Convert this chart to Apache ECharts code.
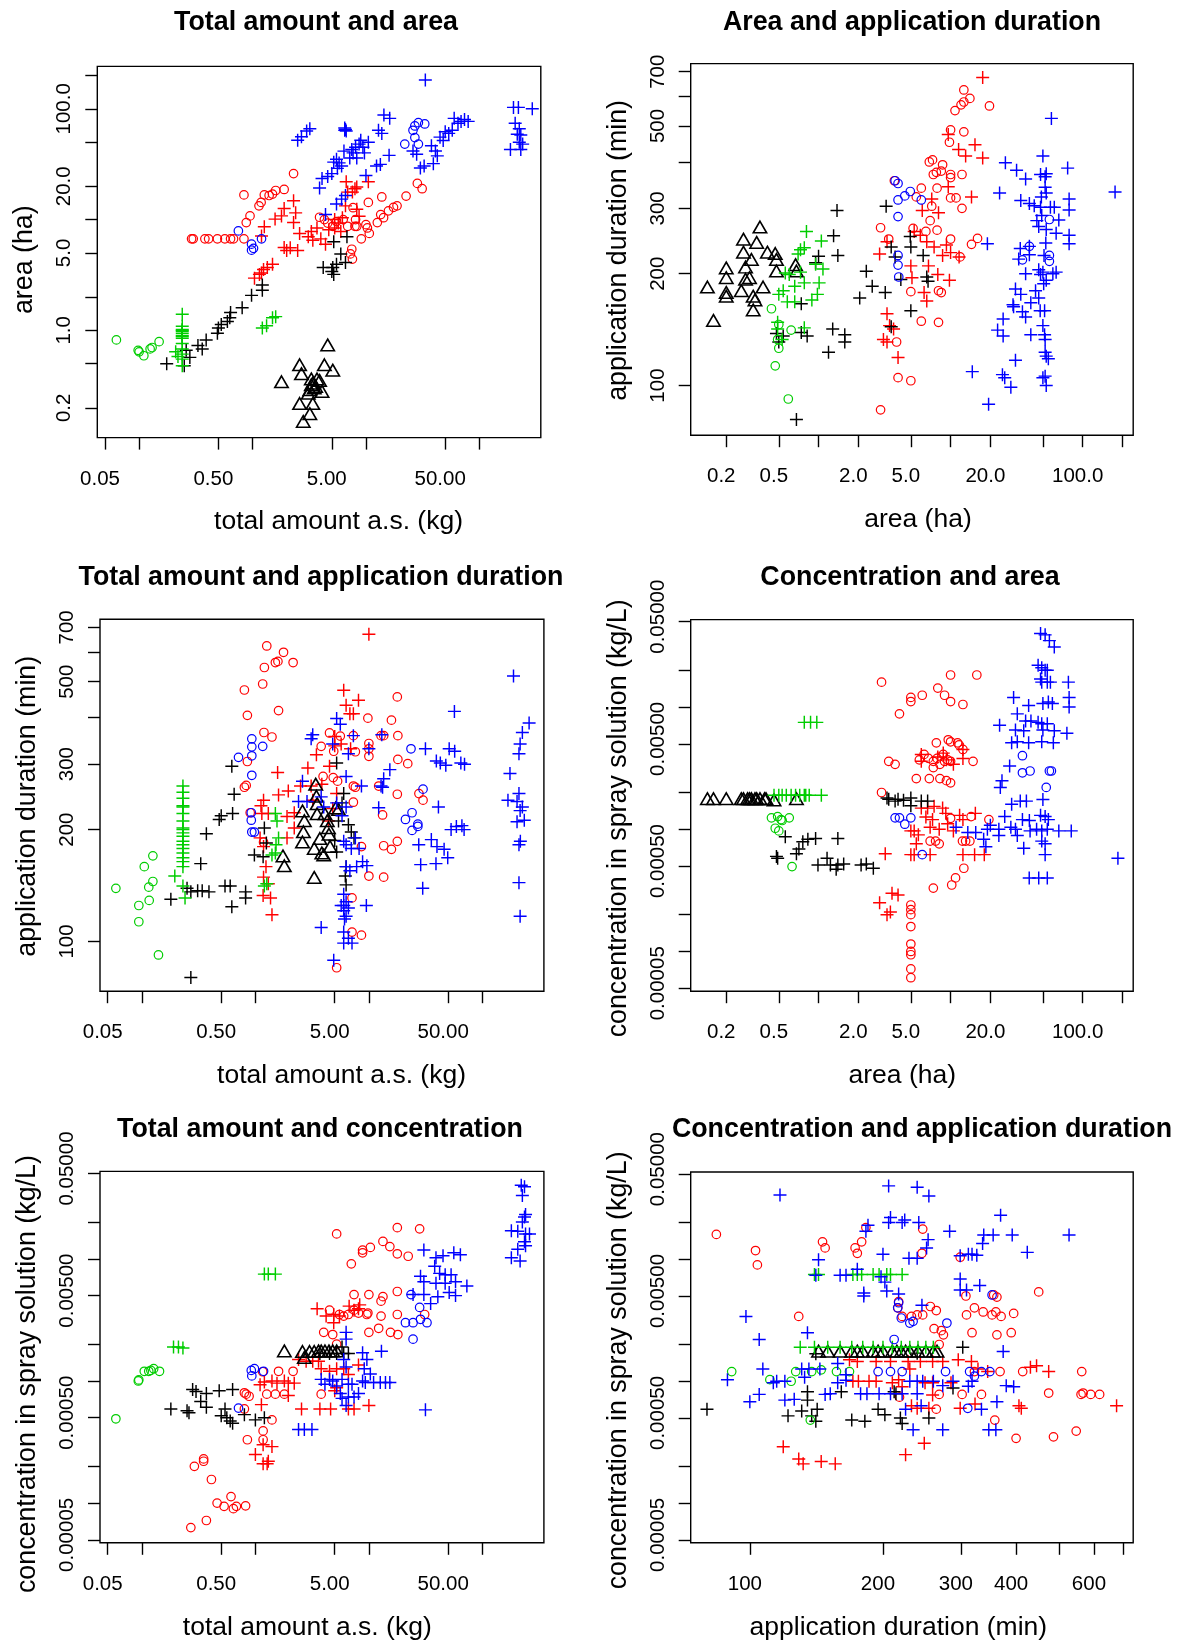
<!DOCTYPE html>
<html><head><meta charset="utf-8">
<script src="https://cdn.jsdelivr.net/npm/echarts@6/dist/echarts.min.js"></script>
<style>html,body{margin:0;padding:0;background:#fff}#c{width:1183px;height:1640px}</style>
</head><body><div id="c"></div>
<script>
// ---------- tick values / labels ----------
const amountTicks = [0.05, 0.1, 0.5, 1, 5, 10, 50, 100];
const amountLabels = [0.05, 0.5, 5, 50];
const areaTicks = [0.2, 0.5, 1, 2, 5, 10, 20, 50, 100, 200];
const areaLabelsY = [0.2, 1, 5, 20, 100];
const areaLabelsX = [0.2, 0.5, 2, 5, 20, 100];
const durTicks = [100, 200, 300, 400, 500, 600, 700];
const durLabelsY = [100, 200, 300, 500, 700];
const durLabelsX = [100, 200, 300, 400, 600];
const concTicks = [0.05, 0.02, 0.01, 0.005, 0.002, 0.001, 0.0005, 0.0002, 0.0001, 0.00005];
const concLabels = [0.05, 0.005, 0.0005, 0.00005];
const amountRange = [0.04276, 348.3];
const areaRange = [0.1076, 241.5];
const durRange = [73.5, 736];
const concRange = [0.0000473, 0.052];

// ---------- Panel 1: total amount (x) vs area (y) ----------
const aa_gr_circ = [[0.063,0.82],[0.098,0.66],[0.1,0.64],[0.11,0.59],[0.125,0.68],[0.13,0.7],[0.15,0.79]];
const aa_gr_plus = [[0.24,1.4],[0.24,1.09],[0.24,1.02],[0.24,1.0],[0.24,0.98],[0.24,0.94],[0.24,0.9],[0.24,0.88],[0.24,0.85],[0.24,0.76],[0.24,0.68],[0.24,0.61],[0.24,0.55],[0.24,0.48],[0.21,0.64],[0.22,0.58],[1.22,1.05],[1.33,1.1],[1.5,1.3],[1.6,1.33]];
const aa_bk_plus = [[0.175,0.5],[0.25,0.48],[0.26,0.66],[0.28,0.57],[0.33,0.73],[0.36,0.68],[0.39,0.82],[0.49,0.94],[0.5,1.05],[0.53,1.13],[0.6,1.2],[0.63,1.3],[0.64,1.45],[0.81,1.6],[0.98,2.07],[1.22,2.3],[1.22,2.57],[5.1,3.7],[5.2,3.2],[5.5,3.95],[6.0,4.9],[6.6,4.1],[6.8,7.0],[5.2,6.3],[4.2,3.7],[5.0,3.4]];
const aa_bk_tri = [[1.8,0.33],[2.6,0.47],[2.7,0.39],[2.6,0.21],[2.8,0.145],[3.2,0.17],[3.4,0.21],[3.3,0.35],[3.4,0.32],[3.5,0.29],[3.2,0.28],[3.7,0.35],[3.9,0.34],[4.1,0.27],[4.3,0.47],[4.6,0.71],[5.1,0.42],[3.1,0.26],[3.6,0.3],[3.3,0.31]];
const aa_rd_circ = [[0.29,6.7],[0.3,6.7],[0.38,6.7],[0.41,6.7],[0.49,6.7],[0.57,6.7],[0.64,6.7],[0.68,6.7],[0.84,6.7],[0.88,9.4],[0.95,10.8],[0.84,16.7],[1.14,13.3],[1.19,14.3],[1.27,16.7],[1.4,16.5],[1.5,17],[1.6,18.3],[1.9,18.7],[2.3,26],[3.9,10.5],[4.3,10],[4.6,9.3],[5.1,8.7],[5.5,9.6],[6.3,10],[6.9,8.7],[7.7,12.8],[8.1,10],[8,8.7],[8.3,8.7],[9.1,6.7],[7.5,5.4],[7.3,4.9],[7.6,4.4],[10,9],[10.3,8.4],[10.7,7.5],[10.5,14.3],[12.6,9.4],[13.5,11.1],[14.3,10.4],[15.8,12],[17.5,12.9],[18.8,13.3],[22.6,16.3],[13.8,16],[28.4,21.2],[31.3,19]];
const aa_rd_plus = [[1.04,2.96],[1.15,3.2],[1.25,3.55],[1.35,3.7],[1.5,3.95],[1.2,3.3],[2.0,5.25],[2.15,5.56],[2.5,5.25],[1.9,5.6],[1.2,7.1],[1.27,8.6],[1.58,10.1],[1.8,10.8],[1.9,12.6],[2.3,14.8],[2.4,11.5],[2.6,7.5],[2.3,9.4],[3.1,7],[3.4,6.5],[3.3,7.8],[3.7,8.4],[4.0,6.7],[4.4,6.0],[4.7,8.1],[5.3,8.4],[5.7,9.3],[6.2,10.4],[6.6,13.3],[6.7,22],[6.9,17.7],[8.0,19],[8.3,19.7],[7.6,17.7],[10.5,22],[8.3,12.4],[8.7,10.7],[6.0,7.8],[5.3,10]];
const aa_bl_circ = [[0.75,7.9],[0.98,6.0],[1.02,5.5],[0.98,5.3],[1.2,6.7],[22,48],[26,64],[27,70],[29,75],[33,73],[27,55],[29,48]];
const aa_bl_plus = [[2.5,52],[2.7,56],[3.0,63],[3.2,66],[3.9,19.3],[4.1,23.5],[4.6,24.5],[5.0,26],[4.4,11.1],[5.5,13.8],[6.1,15.3],[6.6,16.5],[5.5,35],[5.8,32.5],[6.1,30.4],[6.4,41.5],[6.6,65],[6.5,67],[6.7,63],[6.5,64],[7.2,36],[7.7,40],[8.1,45],[8.7,48],[9.4,45],[9.7,40],[10.5,50],[10,25],[8.3,36],[12.9,64],[13.8,60],[14.4,88],[16.2,82],[16,38],[12.4,30.4],[13.4,31.5],[26,41.6],[28,38.9],[30.2,29.2],[32.6,30.4],[39.3,32],[37.8,46.5],[41,41.6],[42.6,37.6],[45,55.5],[48,51.8],[50,62],[53.7,60],[57.7,64],[60,82],[64.8,74],[69,77],[74,80],[79.7,77],[33.4,182],[200,103],[221,103],[293,100],[188,43],[232,43],[207,74],[225,66],[232,58],[225,50],[241,48],[216,59],[5.2,33],[7.5,43],[9,52],[5.6,29]];

// ---------- Panel 2: area (x) vs application duration (y) ----------
const ad_bk_tri = [[0.144,182],[0.16,148],[0.2,205],[0.2,193],[0.2,176],[0.2,172],[0.26,178],[0.27,245],[0.27,226],[0.28,206],[0.28,191],[0.3,193],[0.31,216],[0.32,172],[0.33,168],[0.32,158],[0.34,240],[0.36,264],[0.38,182],[0.41,226],[0.47,224],[0.48,216],[0.48,201],[0.67,209],[0.68,201]];
const ad_gr_plus = [[0.81,260],[1.05,245],[0.78,235],[0.73,232],[0.7,226],[0.56,201],[0.6,199],[0.73,202],[0.78,189],[0.66,185],[0.54,180],[0.5,176],[0.58,168],[0.66,168],[0.89,170],[0.98,176],[1.01,189],[0.95,212],[1.08,206],[0.49,148],[0.49,142],[0.78,143],[0.53,133]];
const ad_gr_circ = [[0.44,161],[0.5,146],[0.49,133],[0.5,126],[0.62,141],[0.47,113],[0.59,92]];
const ad_bk_plus = [[0.48,138],[0.5,131],[0.54,136],[0.68,81],[0.74,166],[0.74,139],[0.82,136],[0.95,214],[1.0,223],[1.19,123],[1.28,142],[1.38,296],[1.3,253],[1.4,224],[1.58,137],[1.58,131],[2.05,172],[2.3,203],[2.55,185],[3.2,178],[3.25,304],[3.55,236],[3.8,222],[3.55,144],[4.95,252],[5.0,236],[5.0,159],[6.2,224],[6.6,196],[6.75,191],[4.2,193]];
const ad_rd_plus = [[2.9,226],[3.3,244],[3.3,156],[3.45,145],[3.1,133],[3.3,131],[4.0,119],[3.7,142],[5.0,210],[5.1,195],[5.3,260],[5.9,254],[6.1,296],[6.6,244],[6.8,210],[6.3,178],[6.6,169],[7.2,318],[7.5,236],[8.1,292],[8.0,199],[8.7,224],[9.3,239],[9.6,343],[9.8,192],[10,228],[11.6,222],[14.4,322],[9.6,474],[11.5,432],[13,415],[15.3,445],[17.5,410],[17.5,675]];
const ad_rd_circ = [[2.95,86],[2.95,266],[3.4,248],[3.75,356],[3.9,131],[4.0,105],[5.0,103],[5.0,179],[5.2,265],[5.5,322],[6.0,340],[6.0,149],[6.5,260],[6.9,400],[7.3,405],[7,278],[7.2,304],[7.4,370],[7.8,375],[7.9,340],[7.9,262],[8.1,180],[8.1,148],[8.5,178],[8.7,393],[8.5,378],[10,370],[10,363],[10,320],[10,248],[9.8,452],[10,488],[10.8,550],[11,320],[12,570],[12.6,580],[14,593],[12.6,625],[12.6,482],[12.2,370],[12.2,300],[11.8,222],[14.4,240],[16,249],[19.7,566]];
const ad_bl_circ = [[3.8,356],[4.0,350],[4.0,316],[4.5,324],[4.95,333],[6.0,316],[4.0,285],[4.0,224],[4.0,211],[4.05,196],[35,218],[39.5,237],[56,280],[56,224],[56,216]];
const ad_bl_plus = [[14.6,109],[19.4,89],[19,241],[23.5,330],[26,398],[31.6,380],[37,360],[34,315],[39.5,309],[43,305],[48,370],[50,415],[52,365],[53,372],[52,342],[53,330],[48.7,322],[48,302],[57,302],[61,302],[58,524],[77,385],[79,318],[79,297],[79,254],[79,241],[66,279],[63,257],[176,332],[45,278],[46.5,268],[49,287],[53,263],[52.6,242],[51,224],[33.7,234],[39.5,237],[32.8,219],[39.5,225],[37,200],[46.5,205],[48,199],[50.7,188],[53,192],[50,202],[59.5,200],[63,202],[31,182],[34,176],[44,180],[46.5,172],[40.5,167],[29.7,165],[30,163],[35,158],[37,153],[47.7,159],[51.5,159],[25,151],[22.7,141],[25,136],[40.5,137],[50,145],[51.5,137],[52,133],[52,123],[53,120],[55,118],[31,117],[24.7,107],[25.7,105],[28.6,99],[50,105],[53,100],[52,106]];

// ---------- Panel 3: total amount (x) vs application duration (y) ----------
const td_gr_circ = [[0.059,139],[0.094,125],[0.094,113],[0.105,159],[0.115,140],[0.116,129],[0.125,145],[0.125,170],[0.14,92]];
const td_gr_plus = [[0.23,262],[0.23,252],[0.23,243],[0.23,232],[0.23,230],[0.23,221],[0.23,211],[0.23,202],[0.23,200],[0.23,196],[0.23,192],[0.23,186],[0.23,182],[0.23,178],[0.23,173],[0.23,168],[0.23,164],[0.23,159],[0.195,150],[0.23,141],[0.24,131],[1.2,141],[1.26,143],[1.4,171],[1.5,221],[1.55,211],[1.5,173],[1.6,190],[1.52,182]];
const td_bk_plus = [[0.18,130],[0.25,139],[0.27,136],[0.31,137],[0.34,137],[0.39,136],[0.27,80],[0.33,162],[0.37,195],[0.48,213],[0.5,218],[0.63,221],[0.65,249],[0.62,296],[0.54,141],[0.6,141],[0.62,124],[0.82,136],[0.82,131],[0.98,171],[1.17,169],[1.2,202],[1.25,184],[5.2,302],[6.0,250],[5.8,236],[5.4,211],[5.0,187],[5.2,174],[6.3,159],[6.2,150],[6.3,142],[6.6,206],[7,197],[7.4,190]];
const td_bk_tri = [[1.75,168],[1.8,158],[2.6,222],[2.7,209],[2.65,195],[2.6,183],[3.3,147],[3.4,262],[3.45,243],[3.5,232],[3.5,218],[3.7,187],[3.3,176],[3.85,171],[4.0,169],[4.1,218],[4.3,209],[4.4,200],[4.45,192],[4.55,178],[5.1,226],[5.4,224]];
const td_rd_circ = [[1.26,624],[1.2,546],[1.5,563],[1.58,567],[1.77,600],[2.15,563],[0.8,475],[1.16,493],[0.85,406],[1.6,418],[1.19,365],[1.4,355],[0.85,305],[0.8,260],[0.83,263],[0.9,222],[1.18,185],[4.5,364],[3.8,335],[5.6,357],[4.9,325],[3.95,278],[4.85,276],[5.3,270],[7.6,324],[7.3,358],[7.3,262],[7.6,260],[7.3,237],[8.6,180],[9.8,399],[10,341],[10,330],[10,315],[12.2,262],[13.2,219],[12.8,358],[13.5,358],[15.8,394],[18,358],[18,309],[17.8,455],[17.8,249],[13.5,181],[15.8,177],[17.8,186],[10,150],[13.5,149],[7.1,131],[7.1,106],[8.6,104],[5.2,85],[22,301],[27.6,250],[30,240]];
const td_rd_plus = [[10,671],[6,474],[8.1,446],[6.3,432],[6.8,410],[7.3,410],[5.0,356],[5.7,340],[5,336],[4.5,296],[6.9,330],[3.45,318],[2.9,293],[2.5,262],[1.57,285],[1.95,254],[1.6,248],[1.18,240],[1.12,232],[1.14,221],[1.3,221],[1.9,217],[2.2,222],[3.1,262],[3.2,240],[3.85,265],[4.4,211],[5.2,250],[4.8,228],[1.1,190],[1.18,180],[1.24,159],[1.18,149],[1.3,143],[1.17,133],[1.36,131],[1.4,118],[1.9,190],[2.2,202]];
const td_bl_circ = [[0.71,313],[0.93,351],[0.93,334],[0.93,316],[1.16,335],[0.93,280],[0.92,222],[0.92,212],[0.93,197],[0.98,197],[23.5,330],[30,257],[24,222],[21,213],[24,199],[27,204],[27,207]];
const td_bl_plus = [[3.2,360],[3.1,351],[5.2,398],[5.6,384],[4.8,340],[7.3,358],[10,330],[13,360],[15.3,290],[13.5,274],[12.8,262],[8.6,262],[6.3,278],[6.6,320],[2.6,270],[2.4,238],[2.85,238],[3.8,245],[4,230],[5.2,236],[6.3,230],[5.8,218],[6,186],[6.3,182],[7.0,178],[7.6,190],[8.2,178],[8.8,164],[9.6,160],[7.8,159],[6.8,155],[6.3,159],[6.0,134],[6.3,128],[6,125],[6,121],[6.3,117],[6.1,115],[5.7,125],[6.6,123],[9.5,125],[6,106],[6.6,102],[7.1,99],[6,99],[4.9,89],[3.8,109],[12.2,229],[13.2,260],[31.5,330],[39.3,306],[42.6,302],[47.6,298],[51,330],[57,325],[64.6,302],[69.6,300],[56.7,416],[41,230],[35.5,188],[39.8,180],[46,177],[49.5,168],[53,200],[59,204],[69,200],[66,205],[27.5,182],[28.6,161],[29.8,139],[39,162],[188,518],[175,283],[168,240],[202,238],[210,250],[225,230],[210,320],[215,340],[225,365],[258,387],[215,225],[234,212],[202,210],[216,186],[210,182],[210,144],[215,117]];

// ---------- Panel 4: area (x) vs concentration (y) ----------
const ca_bk_tri = [[0.144,0.00172],[0.16,0.00172],[0.2,0.00172],[0.26,0.00172],[0.27,0.00172],[0.29,0.00172],[0.3,0.00172],[0.31,0.00172],[0.33,0.00172],[0.34,0.00172],[0.36,0.00172],[0.39,0.00172],[0.4,0.00172],[0.46,0.00168],[0.68,0.00172]];
const ca_gr_plus = [[0.46,0.0019],[0.5,0.0019],[0.53,0.0019],[0.57,0.0019],[0.62,0.0019],[0.67,0.0019],[0.72,0.0019],[0.78,0.0019],[0.8,0.0019],[0.85,0.0019],[1.05,0.0019],[0.78,0.0075],[0.87,0.0075],[0.97,0.0075]];
const ca_gr_circ = [[0.44,0.00124],[0.49,0.00127],[0.53,0.00118],[0.6,0.00124],[0.47,0.00102],[0.5,0.00097],[0.52,0.0012],[0.63,0.000495]];
const ca_bk_plus = [[0.49,0.00058],[0.48,0.0006],[0.56,0.00087],[0.68,0.00063],[0.71,0.00069],[0.76,0.00079],[0.83,0.00083],[0.95,0.00084],[0.99,0.00051],[1.16,0.00058],[1.23,0.00051],[1.36,0.00047],[1.4,0.00051],[1.55,0.00052],[1.4,0.00084],[2.1,0.00051],[2.3,0.00052],[2.6,0.00048],[3.3,0.0018],[3.4,0.00176],[3.8,0.0017],[4.0,0.00176],[4.4,0.00173],[5.0,0.0018],[5.0,0.00156],[6.0,0.0017],[6.7,0.0017]];
const ca_rd_circ = [[3.0,0.016],[4.1,0.0088],[5.0,0.012],[5.0,0.0111],[6.1,0.0125],[8.0,0.0143],[9,0.0125],[10,0.0183],[15.8,0.0183],[10,0.0111],[12.4,0.0105],[7.8,0.0051],[9.6,0.0054],[10,0.0052],[11.3,0.0051],[11.6,0.0049],[12.4,0.0045],[3.4,0.0036],[3.8,0.0034],[5.8,0.0037],[6.3,0.0041],[6.8,0.0038],[7.4,0.0036],[7.9,0.0038],[8.8,0.0041],[8.3,0.0034],[9,0.0036],[9.5,0.0037],[10,0.0036],[14.8,0.0036],[7.4,0.0032],[5.5,0.0026],[6.9,0.0026],[8.3,0.0026],[9.3,0.0025],[10,0.0024],[3.0,0.002],[10,0.00123],[14.3,0.00127],[19.5,0.0012],[12.3,0.0008],[13,0.0008],[14,0.0008],[7,0.0008],[7.7,0.0008],[8.2,0.00076],[7.4,0.00033],[10.2,0.00035],[10.9,0.0004],[12.6,0.00048],[5,0.00024],[5,0.00022],[5,0.0002],[5,0.00016],[5,0.000115],[5,0.0001],[5,0.000094],[5,0.000072],[5,0.000061]];
const ca_rd_plus = [[2.9,0.00025],[3.3,0.0002],[3.5,0.00021],[3.6,0.0003],[4.0,0.00029],[3.2,0.00063],[5.0,0.00062],[5.3,0.00062],[7,0.00062],[12.4,0.00062],[15.2,0.00062],[18,0.00062],[5,0.00097],[5.3,0.00097],[5.7,0.0009],[5.5,0.00076],[6,0.00149],[6.7,0.00149],[7.5,0.00154],[8.7,0.00149],[6.5,0.00126],[7.3,0.0012],[7,0.00104],[8.2,0.001],[9.5,0.00111],[10.5,0.00097],[11.7,0.0013],[12.4,0.0012],[15.4,0.00135],[9.2,0.00135],[6,0.0036],[8.8,0.0042],[12.4,0.0045],[10.5,0.0034],[9.3,0.0037],[8,0.0039],[12.4,0.0038],[6,0.0041]];
const ca_bl_circ = [[3.8,0.00124],[4.1,0.00124],[4.5,0.0011],[5,0.00124],[6.1,0.00062],[35,0.004],[35,0.0029],[40,0.003],[56,0.003],[58,0.003],[53,0.0022]];
const ca_bl_plus = [[48,0.04],[52,0.039],[56,0.035],[61,0.031],[46,0.022],[49,0.021],[52,0.02],[54,0.02],[48,0.017],[49,0.016],[54,0.016],[57,0.016],[78,0.016],[79,0.012],[79,0.01],[76,0.0061],[30,0.012],[39,0.0103],[50,0.0107],[55,0.011],[59,0.0107],[32,0.0088],[37,0.0077],[40.6,0.0077],[46,0.0075],[49,0.0073],[54,0.0073],[23.5,0.0071],[31,0.0065],[35.8,0.0064],[50,0.0065],[61,0.0064],[29,0.0051],[32,0.0052],[39,0.0051],[49,0.0052],[60,0.0051],[28,0.0033],[24.5,0.0025],[23.8,0.0022],[29,0.0016],[33.7,0.0017],[37.5,0.0017],[50,0.00175],[25.7,0.00127],[35,0.0012],[39.5,0.00118],[48,0.0013],[52,0.00127],[55,0.0012],[11,0.00104],[13.5,0.00094],[15.5,0.00094],[19,0.001],[20,0.00108],[23.2,0.001],[23.2,0.00089],[28.6,0.00104],[31,0.001],[32,0.00089],[40,0.00097],[44.8,0.001],[49,0.00097],[54,0.001],[66,0.00097],[82,0.00097],[49,0.0008],[52,0.00076],[35.8,0.0007],[52,0.00062],[17.8,0.00083],[18.5,0.00072],[185,0.00058],[39.4,0.0004],[46.5,0.0004],[54,0.0004]];

// ---------- Panel 5: total amount (x) vs concentration (y) ----------
const tc_gr_circ = [[0.059,0.00049],[0.093,0.001],[0.094,0.00102],[0.105,0.0012],[0.115,0.0012],[0.12,0.00122],[0.127,0.00126],[0.143,0.0012]];
const tc_gr_plus = [[0.19,0.0019],[0.21,0.0019],[0.23,0.00186],[1.2,0.0075],[1.3,0.0075],[1.5,0.0075]];
const tc_bk_plus = [[0.18,0.00059],[0.25,0.00057],[0.26,0.00055],[0.28,0.00085],[0.3,0.00082],[0.37,0.00079],[0.37,0.00061],[0.48,0.00083],[0.63,0.00085],[0.33,0.00068],[0.5,0.00052],[0.54,0.00059],[0.56,0.0005],[0.6,0.00047],[0.63,0.00045],[0.8,0.00053],[1.0,0.00048],[1.2,0.0005],[5.2,0.00168],[6,0.00168],[6.6,0.00168],[4.5,0.00168],[3.7,0.00168],[5.8,0.0019]];
const tc_bk_tri = [[1.8,0.0017],[2.6,0.00168],[2.7,0.0015],[3.0,0.00168],[3.3,0.00168],[3.6,0.0017],[3.8,0.0017],[4.1,0.0017],[4.45,0.0017],[4.8,0.0017],[5.2,0.0017]];
const tc_rd_circ = [[5.2,0.016],[17.8,0.018],[28,0.0176],[13.3,0.0139],[15.3,0.0126],[10.3,0.0124],[8.8,0.0118],[8.8,0.0112],[17.8,0.011],[22.2,0.0105],[7,0.0091],[7.4,0.0051],[10,0.0051],[13.3,0.0049],[12.8,0.0045],[17.8,0.0054],[4.5,0.0038],[5.5,0.0035],[6,0.0034],[6.6,0.0035],[7.4,0.0038],[8.1,0.0036],[9.8,0.0036],[9.6,0.0035],[12.8,0.0034],[17.8,0.0035],[31,0.0035],[4.0,0.0025],[4.8,0.0024],[10,0.0025],[12.2,0.0027],[15.5,0.0025],[18,0.0024],[5.2,0.002],[1.16,0.00119],[1.6,0.0012],[2.15,0.0012],[0.8,0.0008],[0.83,0.00078],[0.88,0.00075],[1.26,0.00078],[1.5,0.00078],[1.8,0.00078],[3.8,0.00078],[0.8,0.00059],[1.4,0.00048],[1.17,0.00039],[0.85,0.00033],[1.17,0.00033],[0.35,0.00023],[0.35,0.00022],[0.29,0.0002],[0.41,0.000156],[0.61,0.000113],[0.46,0.0001],[0.53,0.000094],[0.64,0.00009],[0.68,0.000094],[0.82,0.000095],[0.37,0.000072],[0.27,0.000063]];
const tc_rd_plus = [[3.5,0.0039],[4.2,0.0034],[4.9,0.003],[4.9,0.0035],[5.5,0.0034],[6.7,0.0041],[7.4,0.0038],[8.3,0.0042],[8.1,0.0039],[2.4,0.0015],[2.8,0.00145],[3.2,0.00145],[3.6,0.00145],[3.8,0.00126],[4.5,0.0012],[5.2,0.00126],[6,0.00126],[6.6,0.00113],[8.1,0.00135],[1.1,0.00093],[1.2,0.00098],[1.4,0.001],[1.55,0.00096],[1.8,0.001],[1.95,0.00096],[2.2,0.00096],[1.13,0.00064],[1.95,0.00076],[2.55,0.00059],[3.7,0.00059],[4.6,0.00059],[6.6,0.00059],[7.4,0.00059],[10,0.00063],[5.2,0.00088],[5,0.00083],[1.17,0.0003],[1.4,0.00029],[1.0,0.00025],[1.17,0.00021],[1.27,0.00021],[1.3,0.00022]];
const tc_bl_circ = [[0.71,0.0006],[0.92,0.00122],[0.93,0.0011],[0.98,0.00126],[1.18,0.0012],[21,0.003],[24.5,0.003],[28.5,0.0032],[32.5,0.003],[24.5,0.0022],[28,0.004],[23.5,0.0051]];
const tc_bl_plus = [[220,0.04],[235,0.039],[225,0.033],[240,0.0231],[235,0.022],[225,0.02],[180,0.017],[205,0.0168],[240,0.016],[260,0.016],[235,0.0138],[240,0.0128],[205,0.012],[180,0.0102],[215,0.0096],[30.5,0.0118],[39,0.0102],[45,0.0106],[56,0.0112],[64,0.0108],[38,0.0087],[42,0.0076],[47,0.0074],[53,0.0074],[28.5,0.0072],[30.5,0.0065],[39,0.0063],[47,0.0063],[58,0.0065],[73,0.006],[24.5,0.0051],[30.5,0.0051],[40.5,0.0049],[51,0.0053],[58,0.005],[35,0.0043],[6.3,0.0025],[6.3,0.0022],[8.8,0.0017],[9.6,0.0015],[12.9,0.00175],[9.1,0.00126],[10.3,0.00114],[8.8,0.001],[9.3,0.00097],[11,0.00097],[12.6,0.00097],[14,0.00097],[15.3,0.00097],[3.8,0.00103],[4.1,0.00094],[4.8,0.001],[5.2,0.00091],[5.8,0.00103],[6.3,0.0013],[6.6,0.00094],[7.1,0.00094],[5.6,0.00079],[5.8,0.00072],[6.6,0.00074],[7.4,0.00074],[8.1,0.00079],[6.3,0.00063],[31.5,0.00058],[2.4,0.0004],[2.7,0.0004],[3.15,0.0004],[6,0.0015],[4.5,0.00103]];

// ---------- Panel 6: application duration (x) vs concentration (y) ----------
const cd_gr_plus = [[130,0.0019],[140,0.0019],[150,0.0019],[160,0.0019],[170,0.0019],[180,0.0019],[190,0.0019],[200,0.0019],[210,0.0019],[220,0.0019],[230,0.0019],[240,0.0019],[250,0.0019],[260,0.0019],[140,0.0075],[143,0.0075],[171,0.0075],[175,0.0075],[179,0.0075],[190,0.0075],[196,0.0075],[204,0.0075],[208,0.0075],[221,0.0075]];
const cd_gr_circ = [[91,0.0012],[111,0.00103],[124,0.001],[127,0.0012],[138,0.0012],[145,0.00124],[157,0.0012],[168,0.0012],[137,0.00048]];
const cd_bk_tri = [[143,0.0017],[150,0.0017],[160,0.0017],[170,0.0017],[175,0.0017],[180,0.0017],[190,0.0017],[195,0.0017],[200,0.0017],[210,0.0017],[215,0.0017],[220,0.0017],[225,0.0017],[230,0.0017],[240,0.0017],[250,0.0017],[260,0.0017],[265,0.0017]];
const cd_bk_plus = [[80,0.00059],[122,0.00052],[131,0.00057],[135,0.00082],[138,0.00052],[141,0.00047],[142,0.00059],[135,0.0007],[141,0.00168],[161,0.00082],[170,0.00048],[182,0.00047],[195,0.00059],[202,0.00053],[212,0.00082],[214,0.00079],[219,0.0005],[221,0.00045],[254,0.0005],[288,0.00088],[303,0.0019],[239,0.0017]];
const cd_rd_circ = [[84,0.016],[103,0.0118],[104,0.009],[146,0.0139],[148,0.0124],[129,0.0034],[173,0.0124],[175,0.0112],[179,0.0139],[183,0.0182],[246,0.0177],[245,0.0112],[299,0.0104],[308,0.005],[309,0.0035],[322,0.004],[337,0.0037],[353,0.0035],[356,0.0051],[362,0.0049],[360,0.0037],[370,0.0034],[395,0.0036],[390,0.0025],[318,0.0025],[362,0.0024],[450,0.0054],[368,0.0012],[414,0.0012],[563,0.0012],[474,0.0008],[561,0.00078],[567,0.0008],[590,0.00078],[618,0.00078],[358,0.00048],[400,0.00034],[486,0.00035],[547,0.00039],[302,0.00078],[334,0.00078],[264,0.00059],[268,0.00078],[218,0.00074],[217,0.0045],[216,0.004],[221,0.0034],[232,0.0034],[239,0.0035],[246,0.0035],[256,0.0041],[264,0.0038],[261,0.0027],[271,0.0026],[274,0.0024],[268,0.002],[322,0.0012]];
const cd_rd_plus = [[119,0.00029],[129,0.00023],[132,0.00021],[145,0.00022],[156,0.00021],[225,0.00025],[248,0.00031],[168,0.0015],[175,0.00145],[193,0.00145],[208,0.00145],[228,0.00145],[243,0.00145],[259,0.00145],[273,0.00145],[296,0.0015],[317,0.00145],[171,0.001],[176,0.001],[186,0.001],[193,0.001],[210,0.00097],[217,0.00103],[221,0.0009],[230,0.00126],[249,0.00097],[259,0.00097],[285,0.00097],[299,0.0006],[323,0.00065],[328,0.00126],[345,0.0012],[406,0.00063],[411,0.0006],[431,0.0013],[445,0.00134],[474,0.0012],[675,0.00063],[232,0.00063],[239,0.0006],[254,0.0006],[259,0.00077]];
const cd_bl_circ = [[217,0.0044],[216,0.004],[220,0.0033],[230,0.003],[234,0.0031],[212,0.0022],[279,0.003],[195,0.0012],[208,0.0012],[221,0.0012],[277,0.0012],[314,0.0012],[322,0.0011],[334,0.0012],[349,0.0012],[311,0.0006],[353,0.0051]];
const cd_bl_plus = [[117,0.0337],[206,0.04],[239,0.039],[254,0.033],[208,0.022],[206,0.02],[221,0.02],[224,0.021],[241,0.02],[185,0.019],[183,0.017],[283,0.017],[369,0.023],[338,0.0158],[355,0.0158],[392,0.0158],[527,0.0158],[253,0.0145],[336,0.0135],[251,0.0124],[200,0.011],[229,0.0102],[239,0.0102],[299,0.0107],[312,0.011],[318,0.011],[326,0.0108],[424,0.0114],[143,0.0099],[141,0.0074],[160,0.0074],[165,0.0074],[175,0.0083],[198,0.0072],[202,0.0065],[299,0.0069],[331,0.0061],[309,0.0056],[299,0.0056],[204,0.0055],[217,0.0052],[181,0.0053],[181,0.005],[245,0.0042],[98,0.0034],[105,0.0022],[135,0.0025],[107,0.00126],[89,0.00103],[120,0.001],[115,0.001],[113,0.00097],[133,0.00108],[136,0.00126],[144,0.00126],[100,0.00068],[105,0.00078],[120,0.0007],[126,0.00071],[148,0.00078],[152,0.00079],[158,0.00097],[165,0.00102],[178,0.00079],[184,0.00079],[196,0.00079],[208,0.00079],[221,0.00079],[230,0.001],[239,0.001],[246,0.001],[260,0.001],[273,0.00092],[239,0.00079],[244,0.00063],[234,0.0004],[273,0.0004],[334,0.00059],[347,0.0004],[360,0.0004],[362,0.00068],[380,0.00092],[395,0.0009],[312,0.00091],[318,0.001],[288,0.001],[374,0.00175],[225,0.00059],[158,0.0014],[165,0.00113],[131,0.00126]];

// ---------- chart construction ----------
const FONT = '"Liberation Sans", Arial, Helvetica, sans-serif';
const L = Math.log10;
const PLUS = 'path://M0,5L10,5M5,0L5,10';
const TRI = 'path://M5,0L10,8.66L0,8.66Z';
const STYLE = {
  rdCirc: {symbol: 'circle', size: 8.5, color: '#FF0000', w: 1.2},
  rdPlus: {symbol: PLUS, size: 13, color: '#FF0000', w: 1.45},
  bkTri:  {symbol: TRI, size: [13.4, 11.6], color: '#000000', w: 1.6, off: [0, -1.9]},
  bkPlus: {symbol: PLUS, size: 13, color: '#000000', w: 1.45},
  grCirc: {symbol: 'circle', size: 8.5, color: '#00CD00', w: 1.2},
  grPlus: {symbol: PLUS, size: 13, color: '#00CD00', w: 1.45},
  blCirc: {symbol: 'circle', size: 8.5, color: '#0000FF', w: 1.2},
  blPlus: {symbol: PLUS, size: 13, color: '#0000FF', w: 1.45}
};
const AXES = {
  amount: {range: amountRange, ticks: amountTicks, labels: amountLabels, dec: 2, name: 'total amount a.s. (kg)'},
  areaY:  {range: areaRange, ticks: areaTicks, labels: areaLabelsY, dec: 1, name: 'area (ha)'},
  areaX:  {range: areaRange, ticks: areaTicks, labels: areaLabelsX, dec: 1, name: 'area (ha)'},
  durY:   {range: durRange, ticks: durTicks, labels: durLabelsY, dec: 0, name: 'application duration (min)'},
  durX:   {range: durRange, ticks: durTicks, labels: durLabelsX, dec: 0, name: 'application duration (min)'},
  conc:   {range: concRange, ticks: concTicks, labels: concLabels, dec: 5, name: 'concentration in spray solution (kg/L)', shiftUp: true}
};
const PANELS = [
  {title: 'Total amount and area', tx: 316, ty: 23, grid: [97.3, 66.4, 443.5, 371.2], x: 'amount', y: 'areaY', xs: 19.5, ys: 7.7,
   s: {rdCirc: aa_rd_circ, rdPlus: aa_rd_plus, bkPlus: aa_bk_plus, bkTri: aa_bk_tri, grCirc: aa_gr_circ, grPlus: aa_gr_plus, blCirc: aa_bl_circ, blPlus: aa_bl_plus}},
  {title: 'Area and application duration', tx: 912, ty: 23, grid: [690.7, 63.6, 442.5, 371.6], x: 'areaX', y: 'durY', xs: 6, ys: 1,
   s: {rdCirc: ad_rd_circ, rdPlus: ad_rd_plus, bkPlus: ad_bk_plus, bkTri: ad_bk_tri, grCirc: ad_gr_circ, grPlus: ad_gr_plus, blCirc: ad_bl_circ, blPlus: ad_bl_plus}},
  {title: 'Total amount and application duration', tx: 321, ty: 578, grid: [100, 619.3, 443.9, 371.9], x: 'amount', y: 'durY', xs: 19.6, ys: 1,
   s: {rdCirc: td_rd_circ, rdPlus: td_rd_plus, bkPlus: td_bk_plus, bkTri: td_bk_tri, grCirc: td_gr_circ, grPlus: td_gr_plus, blCirc: td_bl_circ, blPlus: td_bl_plus}},
  {title: 'Concentration and area', tx: 910, ty: 578, grid: [690.7, 619.6, 442.5, 371.6], x: 'areaX', y: 'conc', xs: -9.7, ys: 13,
   s: {rdCirc: ca_rd_circ, rdPlus: ca_rd_plus, bkPlus: ca_bk_plus, bkTri: ca_bk_tri, grCirc: ca_gr_circ, grPlus: ca_gr_plus, blCirc: ca_bl_circ, blPlus: ca_bl_plus}},
  {title: 'Total amount and concentration', tx: 320, ty: 1130, grid: [100, 1171.4, 443.9, 371.4], x: 'amount', y: 'conc', xs: -14.7, ys: 17,
   s: {rdCirc: tc_rd_circ, rdPlus: tc_rd_plus, bkPlus: tc_bk_plus, bkTri: tc_bk_tri, grCirc: tc_gr_circ, grPlus: tc_gr_plus, blCirc: tc_bl_circ, blPlus: tc_bl_plus}},
  {title: 'Concentration and application duration', tx: 922, ty: 1130, grid: [690.7, 1172, 442.5, 370.8], x: 'durX', y: 'conc', xs: -13.6, ys: 13,
   s: {rdCirc: cd_rd_circ, rdPlus: cd_rd_plus, bkPlus: cd_bk_plus, bkTri: cd_bk_tri, grCirc: cd_gr_circ, grPlus: cd_gr_plus, blCirc: cd_bl_circ, blPlus: cd_bl_plus}}
];

function makeAxis(key, idx, isX, shift) {
  const a = AXES[key];
  const pad = shift >= 0 ? (isX ? [0, 0, 0, 2 * shift] : [0, 2 * shift, 0, 0])
                         : (isX ? [0, -2 * shift, 0, 0] : [0, 0, 0, -2 * shift]);
  return {
    type: 'value', gridIndex: idx,
    min: L(a.range[0]), max: L(a.range[1]),
    axisLine: {show: false, onZero: false},
    splitLine: {show: false},
    axisTick: {show: true, inside: false, length: 12, customValues: a.ticks.map(L),
               lineStyle: {color: '#000', width: 1.4}},
    axisLabel: {show: true, customValues: a.labels.map(L), rotate: isX ? 0 : 90,
                margin: isX ? 31 : 22, fontSize: 20.5, fontFamily: FONT, color: '#000',
                padding: isX ? [0, 10, 0, 0] : (a.shiftUp ? [0, 0, 0, 10] : 0),
                formatter: v => Math.pow(10, v).toFixed(a.dec)},
    name: a.name, nameLocation: 'middle', nameGap: isX ? 71 : 59,
    nameTextStyle: {fontSize: isX ? 26.5 : 26.8, fontFamily: FONT, color: '#000', padding: pad}
  };
}

const grids = [], xAxes = [], yAxes = [], titles = [], series = [];
PANELS.forEach((p, i) => {
  grids.push({left: p.grid[0], top: p.grid[1], width: p.grid[2], height: p.grid[3],
              show: true, borderColor: '#000', borderWidth: 1.4, backgroundColor: 'transparent',
              containLabel: false, outerBoundsMode: 'none'});
  xAxes.push(makeAxis(p.x, i, true, p.xs));
  yAxes.push(makeAxis(p.y, i, false, p.ys));
  titles.push({text: p.title, left: p.tx, top: p.ty, textAlign: 'center', textVerticalAlign: 'middle', padding: 0,
               textStyle: {fontSize: 26.8, fontWeight: 'bold', fontFamily: FONT, color: '#000'}});
  Object.keys(p.s).forEach(k => {
    const st = STYLE[k];
    series.push({
      type: 'scatter', xAxisIndex: i, yAxisIndex: i,
      data: p.s[k].map(d => [L(d[0]), L(d[1])]),
      symbol: st.symbol, symbolSize: st.size, symbolOffset: st.off || [0, 0],
      itemStyle: {color: 'rgba(0,0,0,0)', borderColor: st.color, borderWidth: st.w, opacity: 1},
      emphasis: {disabled: true}, silent: true, clip: false
    });
  });
});

const chart = echarts.init(document.getElementById('c'), null, {renderer: 'canvas', width: 1183, height: 1640});
chart.setOption({
  animation: false, backgroundColor: '#ffffff',
  title: titles, grid: grids, xAxis: xAxes, yAxis: yAxes, series: series
});
</script></body></html>
